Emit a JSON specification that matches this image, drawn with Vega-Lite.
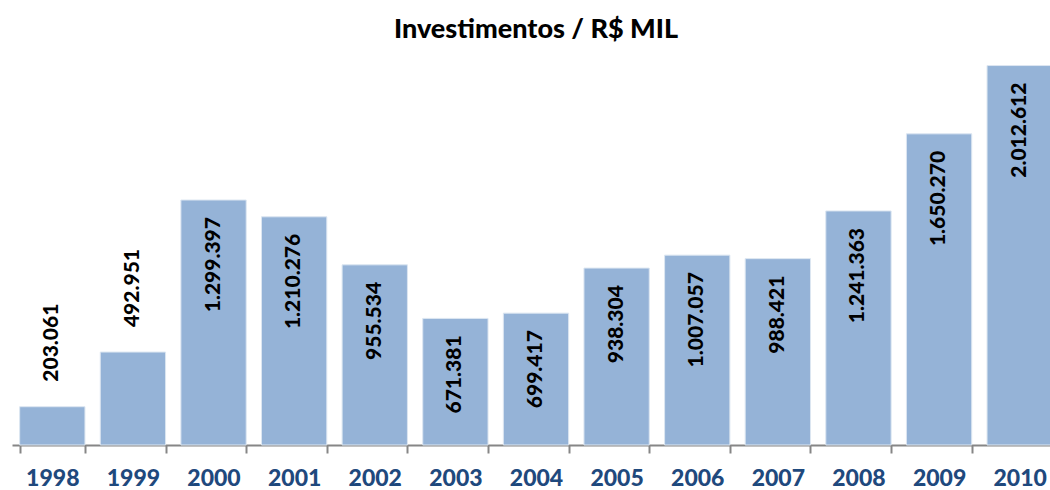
{
  "$schema": "https://vega.github.io/schema/vega-lite/v6.json",
  "autosize": {"type": "none"},
  "padding": {"left": 12, "top": 50, "right": 0, "bottom": 45},
  "width": 1048,
  "height": 395,
  "background": "white",
  "config": {
    "view": {"stroke": null},
    "locale": {"number": {"decimal": ",", "thousands": ".", "grouping": [3], "currency": ["R$", ""]}},
    "font": "Lato"
  },
  "title": {
    "text": "Investimentos / R$ MIL",
    "fontSize": 27,
    "fontWeight": 900,
    "font": "Lato",
    "color": "#000000",
    "anchor": "middle",
    "offset": 6
  },
  "data": {
    "values": [
      {"ano": "1998", "v": 203061},
      {"ano": "1999", "v": 492951},
      {"ano": "2000", "v": 1299397},
      {"ano": "2001", "v": 1210276},
      {"ano": "2002", "v": 955534},
      {"ano": "2003", "v": 671381},
      {"ano": "2004", "v": 699417},
      {"ano": "2005", "v": 938304},
      {"ano": "2006", "v": 1007057},
      {"ano": "2007", "v": 988421},
      {"ano": "2008", "v": 1241363},
      {"ano": "2009", "v": 1650270},
      {"ano": "2010", "v": 2012612}
    ]
  },
  "encoding": {
    "x": {
      "field": "ano",
      "type": "ordinal",
      "sort": null,
      "scale": {"paddingInner": 0.19, "paddingOuter": 0.095},
      "axis": {
        "title": null,
        "labelAngle": 0,
        "labelFont": "Lato",
        "labelFontSize": 23,
        "labelFontWeight": 900,
        "labelColor": "#1F497D",
        "labelPadding": 14,
        "domainColor": "#868686",
        "domainWidth": 2,
        "tickColor": "#868686",
        "tickWidth": 2,
        "tickSize": 8,
        "tickBand": "extent"
      }
    },
    "y": {
      "field": "v",
      "type": "quantitative",
      "scale": {"domain": [0, 2095000]},
      "axis": null
    }
  },
  "layer": [
    {
      "mark": {"type": "bar", "color": "#95B3D7", "stroke": "#dce6f1", "strokeWidth": 1}
    },
    {
      "transform": [{"filter": "datum.v >= 600000"}],
      "mark": {"type": "text", "angle": 270, "align": "right", "baseline": "middle", "dx": -17, "font": "Lato", "fontSize": 21, "fontWeight": 900, "color": "#000000"},
      "encoding": {"text": {"field": "v", "type": "quantitative", "format": ",d"}}
    },
    {
      "transform": [{"filter": "datum.v < 600000"}],
      "mark": {"type": "text", "angle": 270, "align": "left", "baseline": "middle", "dx": 25, "font": "Lato", "fontSize": 21, "fontWeight": 900, "color": "#000000"},
      "encoding": {"text": {"field": "v", "type": "quantitative", "format": ",d"}}
    }
  ]
}
